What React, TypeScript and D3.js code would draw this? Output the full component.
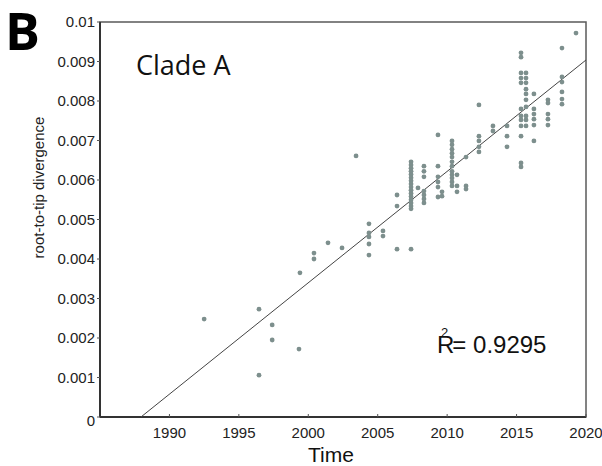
import React, { useEffect, useRef } from 'react';
import * as d3 from 'd3';

// sampling dates (decimal years), one entry per column of tips
const sampleDates = [
  1992.5, 1996.45, 1997.4, 1999.33, 1999.4, 2000.41, 2001.42, 2002.43, 2003.44,
  2004.37, 2005.38, 2006.39, 2007.4, 2007.9, 2008.33, 2009.34, 2009.63, 2010.35,
  2010.71, 2011.36, 2012.29, 2013.3, 2014.31, 2015.32, 2015.68, 2016.25, 2017.26,
  2018.27, 2019.28
];

// root-to-tip divergence of the tips sampled at each date
const divergence = [
  [0.00248],
  [0.00273, 0.00106],
  [0.00233, 0.00195],
  [0.00172],
  [0.00365],
  [0.00415, 0.004],
  [0.00441],
  [0.00428],
  [0.00661],
  [0.00489, 0.00466, 0.00456, 0.00438, 0.0041],
  [0.00471, 0.00458],
  [0.00562, 0.00534, 0.00425],
  [0.00646, 0.00638, 0.0063, 0.00622, 0.00614, 0.00606, 0.00598, 0.0059, 0.00582,
    0.00574, 0.00566, 0.00558, 0.0055, 0.00542, 0.00534, 0.00527, 0.00425],
  [0.0058],
  [0.00635, 0.00622, 0.00608, 0.00572, 0.00562, 0.00552, 0.00542],
  [0.00714, 0.00635, 0.00608, 0.00595, 0.00582, 0.00557],
  [0.0057, 0.00559],
  [0.00699, 0.00689, 0.00678, 0.00668, 0.00658, 0.00646, 0.00635, 0.00622, 0.00613,
    0.00605, 0.00595, 0.00585],
  [0.00613, 0.00585, 0.0057],
  [0.00658, 0.00585, 0.00577],
  [0.0079, 0.00711, 0.00699, 0.00684, 0.00671],
  [0.00737, 0.00724],
  [0.00737, 0.00711, 0.00684],
  [0.00922, 0.00911, 0.00871, 0.00858, 0.00846, 0.0078, 0.00762, 0.00752, 0.00737,
    0.00711, 0.00643, 0.00633],
  [0.00871, 0.00858, 0.00846, 0.0083, 0.00818, 0.00803, 0.00785, 0.00762, 0.00752,
    0.00737],
  [0.00818, 0.0078, 0.00767, 0.00754, 0.00739, 0.00699],
  [0.00803, 0.00795, 0.00767, 0.00754, 0.00739],
  [0.00934, 0.00861, 0.00848, 0.00823, 0.00805, 0.00792],
  [0.00972]
];

const xTicks = [1990, 1995, 2000, 2005, 2010, 2015, 2020];
const yTicks = [0, 0.001, 0.002, 0.003, 0.004, 0.005, 0.006, 0.007, 0.008, 0.009, 0.01];
const yTickLabels = ['0', '0.001', '0.002', '0.003', '0.004', '0.005', '0.006', '0.007', '0.008', '0.009', '0.01'];

// regression: x-intercept (root date) and rate
const fitRootDate = 1987.95;
const fitRate = 0.000282;
const r2Label = '= 0.9295';

const W = 602;
const H = 466;

const App: React.FC = () => {
  const svgRef = useRef<SVGSVGElement>(null);

  useEffect(() => {
    if (!svgRef.current) return;
    const svg = d3.select(svgRef.current);
    svg.selectAll('*').remove();

    const margin = { top: 22, right: 16, bottom: 49, left: 100 };
    const x = d3.scaleLinear().domain([1985, 2020]).range([margin.left, W - margin.right]);
    const y = d3.scaleLinear().domain([0, 0.01]).range([H - margin.bottom, margin.top]);

    const sans = '"Liberation Sans", Arial, sans-serif';

    // frame (top/right lighter)
    svg.append('rect')
      .attr('x', x(1985)).attr('y', y(0.01))
      .attr('width', x(2020) - x(1985)).attr('height', y(0) - y(0.01))
      .style('fill', 'none').style('stroke', '#5a5a5a').style('stroke-width', 1.5);

    // left and bottom axis lines
    svg.append('line')
      .attr('x1', x(1985)).attr('x2', x(1985)).attr('y1', y(0.01)).attr('y2', y(0))
      .style('stroke', '#333').style('stroke-width', 2);
    svg.append('line')
      .attr('x1', x(1985)).attr('x2', x(2020)).attr('y1', y(0)).attr('y2', y(0))
      .style('stroke', '#333').style('stroke-width', 2);

    // x ticks
    svg.selectAll('.xtick')
      .data(xTicks)
      .enter()
      .append('line')
      .attr('x1', d => x(d)).attr('x2', d => x(d))
      .attr('y1', y(0)).attr('y2', y(0) - 3)
      .style('stroke', '#555').style('stroke-width', 1);

    svg.selectAll('.xlabel')
      .data(xTicks)
      .enter()
      .append('text')
      .attr('x', d => x(d))
      .attr('y', y(0) + 21)
      .attr('text-anchor', 'middle')
      .style('font-family', sans)
      .style('font-size', '15px')
      .style('fill', '#222')
      .text(d => String(d));

    // y ticks
    svg.selectAll('.ytick')
      .data(yTicks)
      .enter()
      .append('line')
      .attr('x1', x(1985) - 3).attr('x2', x(1985))
      .attr('y1', d => y(d)).attr('y2', d => y(d))
      .style('stroke', '#555').style('stroke-width', 1);

    svg.selectAll('.ylabel')
      .data(yTicks)
      .enter()
      .append('text')
      .attr('x', x(1985) - 5)
      .attr('y', d => y(d))
      .attr('dy', (d, i) => (i === 0 ? '0.6em' : '0.35em'))
      .attr('text-anchor', 'end')
      .style('font-family', sans)
      .style('font-size', '15px')
      .style('fill', '#222')
      .text((d, i) => yTickLabels[i]);

    // regression line
    svg.append('line')
      .attr('x1', x(fitRootDate)).attr('y1', y(0))
      .attr('x2', x(2020)).attr('y2', y(fitRate * (2020 - fitRootDate)))
      .style('stroke', '#444').style('stroke-width', 1);

    // tips
    const tips = sampleDates.flatMap((date, i) => divergence[i].map(v => ({ date, v })));
    svg.selectAll('.tip')
      .data(tips)
      .enter()
      .append('circle')
      .attr('cx', d => x(d.date))
      .attr('cy', d => y(d.v))
      .attr('r', 2.4)
      .style('fill', '#7d8f8d');

    // titles
    svg.append('text')
      .attr('x', 5).attr('y', 50)
      .style('font-family', '"Open Sans", sans-serif')
      .style('font-weight', 700)
      .style('font-size', '52px')
      .style('fill', '#000')
      .text('B');

    svg.append('text')
      .attr('x', 136).attr('y', 75)
      .style('font-family', '"Open Sans", sans-serif')
      .style('font-size', '27px')
      .style('fill', '#111')
      .text('Clade A');

    svg.append('text')
      .attr('x', (x(1985) + x(2020)) / 2 - 12)
      .attr('y', H - 4)
      .attr('text-anchor', 'middle')
      .style('font-family', sans)
      .style('font-size', '21px')
      .style('fill', '#111')
      .text('Time');

    svg.append('text')
      .attr('transform', `translate(44, ${(y(0) + y(0.01)) / 2 - 32}) rotate(-90)`)
      .attr('text-anchor', 'middle')
      .style('font-family', sans)
      .style('font-size', '15px')
      .style('fill', '#222')
      .text('root-to-tip divergence');

    // R² annotation
    const r2 = svg.append('text')
      .attr('x', 437).attr('y', 353)
      .style('font-family', sans)
      .style('font-size', '24px')
      .style('fill', '#111');
    r2.append('tspan').text('R');
    r2.append('tspan').attr('dx', -2).text(r2Label);

    svg.append('text')
      .attr('x', 441).attr('y', 337)
      .style('font-family', sans)
      .style('font-size', '13px')
      .style('fill', '#111')
      .text('2');
  }, []);

  return (
    <div style={{ position: 'absolute', left: 0, top: 0, background: '#fff' }}>
      <svg ref={svgRef} width={W} height={H} style={{ display: 'block' }} />
    </div>
  );
};

export default App;
